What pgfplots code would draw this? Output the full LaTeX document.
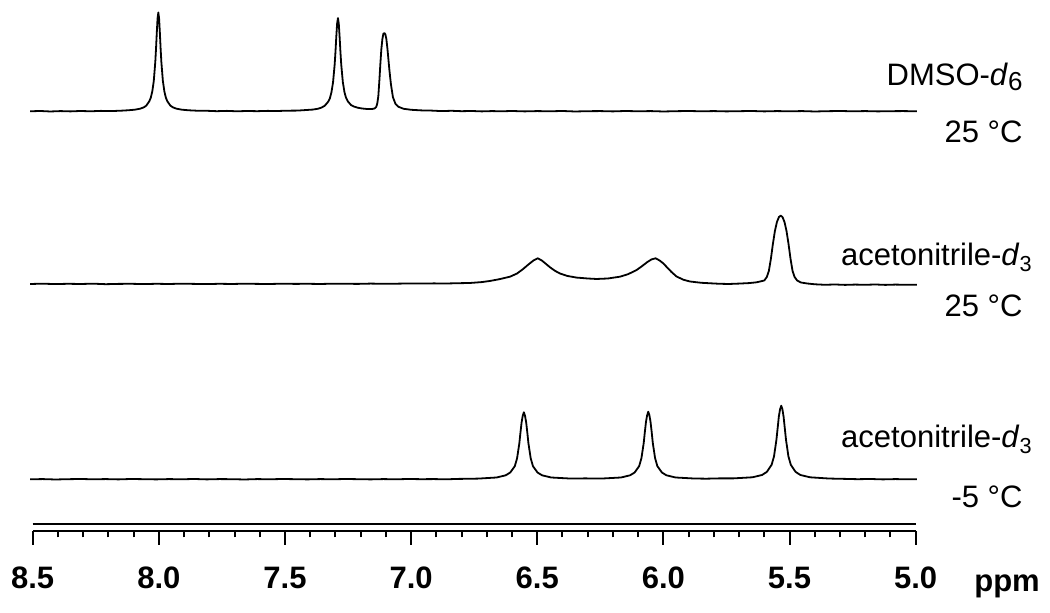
\documentclass[border=0pt]{standalone}
\usepackage{pgfplots}
\pgfplotsset{compat=1.18}
\usepackage{fontspec}
\setmainfont{Liberation Sans}
\newcommand{\lf}{\fontsize{15.5pt}{18pt}\selectfont}
\begin{document}
\begin{tikzpicture}
\path[use as bounding box] (0,0) rectangle (525pt,306.5pt);
\begin{axis}[
  at={(16.35pt,41.15pt)}, anchor=south west,
  scale only axis, width=441.5pt, height=265.35pt,
  x dir=reverse, xmin=5, xmax=8.5, ymin=82.3, ymax=613,
  enlargelimits=false, clip=false,
  axis x line=bottom, axis y line=none,
  x axis line style={-, line width=1pt},
  xtick={5,5.5,...,8.5}, minor x tick num=4,
  tick align=outside,
  major tick length=7pt, minor tick length=3.3pt,
  every tick/.style={black, line width=1pt},
  xticklabel style={font=\lf\bfseries, yshift=-7.5pt},
  /pgf/number format/.cd, fixed, fixed zerofill, precision=1, assume math mode=true,
]
\pgfplotsset{spec/.style={black, line width=0.9pt, line join=round}}
% DMSO-d6, 25 C
\addplot[spec] table[x=x, y expr=\thisrow{y}+501.7] {
x y
8.510 0.0
8.470 0.3
8.430 -0.2
8.390 0.2
8.350 -0.1
8.310 0.3
8.270 0.0
8.230 0.4
8.190 0.2
8.150 0.6
8.122 1.0
8.095 1.6
8.074 2.6
8.060 3.9
8.050 5.6
8.038 9.9
8.032 13.5
8.026 19.8
8.020 30.4
8.014 49.4
8.011 63.2
8.008 79.0
8.005 93.0
8.002 98.8
7.999 93.0
7.996 79.0
7.993 63.2
7.990 49.4
7.984 30.4
7.978 19.8
7.972 13.5
7.966 9.9
7.954 5.6
7.944 3.9
7.930 2.6
7.909 1.6
7.882 1.0
7.850 0.6
7.810 0.5
7.770 0.1
7.730 0.4
7.690 0.0
7.650 0.3
7.610 0.1
7.570 0.4
7.530 0.3
7.490 0.6
7.450 0.7
7.420 1.2
7.390 1.7
7.368 2.6
7.355 3.7
7.342 5.6
7.329 9.5
7.322 13.0
7.316 18.8
7.3095 28.8
7.303 46.8
7.29975 59.8
7.2965 74.8
7.29325 87.8
7.290 93.2
7.28675 87.8
7.2835 74.8
7.28025 59.8
7.277 46.8
7.2705 28.9
7.264 18.9
7.258 13.5
7.251 10.0
7.238 6.2
7.225 4.6
7.212 3.6
7.195 2.8
7.175 2.3
7.155 2.3
7.145 2.8
7.138 4.5
7.134 8
7.130 15
7.126 30
7.122 47
7.118 62
7.114 72
7.110 77.5
7.106 78.2
7.102 77
7.098 72
7.094 63
7.090 52
7.086 41
7.080 27
7.072 14
7.062 7.5
7.050 4.5
7.030 2.5
7.000 1.5
6.960 0.9
6.920 0.7
6.880 0.2
6.840 0.5
6.800 0.1
6.760 0.3
6.720 -0.1
6.680 0.2
6.640 0.0
6.600 0.3
6.550 -0.1
6.500 0.2
6.450 0.0
6.400 0.3
6.350 -0.2
6.300 0.1
6.250 0.2
6.200 -0.1
6.150 0.3
6.100 0.0
6.050 0.2
6.000 -0.2
5.950 0.1
5.900 0.3
5.850 0.0
5.800 0.2
5.750 -0.1
5.700 0.1
5.650 0.3
5.600 -0.1
5.550 0.2
5.500 0.0
5.450 0.2
5.400 -0.2
5.350 0.1
5.300 0.3
5.250 0.0
5.200 0.2
5.150 -0.1
5.100 0.1
5.050 0.2
4.995 0.0
};
% acetonitrile-d3, 25 C
\addplot[spec] table[x=x, y expr=\thisrow{y}+329] {
x y
8.510 0.0
8.460 0.3
8.410 -0.1
8.360 0.2
8.310 0.0
8.260 0.3
8.210 -0.2
8.160 0.1
8.110 0.2
8.060 -0.1
8.010 0.2
7.960 0.0
7.910 0.3
7.860 0.1
7.810 -0.1
7.760 0.2
7.710 0.0
7.660 0.3
7.610 0.1
7.560 0.0
7.510 0.3
7.460 0.1
7.410 0.2
7.360 0.0
7.310 0.3
7.260 0.2
7.210 0.1
7.160 0.4
7.110 0.2
7.060 0.3
7.010 0.5
6.960 0.4
6.910 0.6
6.860 0.5
6.810 0.8
6.767 1.0
6.720 1.9
6.688 3.0
6.650 4.8
6.608 7.3
6.580 10.5
6.556 15.0
6.535 19.5
6.515 23.5
6.498 25.7
6.482 23.5
6.465 20.0
6.450 16.8
6.430 13.2
6.410 10.5
6.380 8.0
6.344 6.4
6.300 5.5
6.265 5.0
6.220 5.5
6.172 7.3
6.140 9.8
6.106 14.0
6.085 17.8
6.066 21.5
6.048 24.5
6.031 25.7
6.015 23.5
6.000 20.5
5.987 17.0
5.968 12.0
5.948 7.5
5.920 4.2
5.895 2.5
5.850 1.2
5.800 0.5
5.776 0.2
5.740 0.0
5.700 0.4
5.660 0.9
5.630 1.7
5.600 3.5
5.590 7
5.582 13
5.574 25
5.566 40
5.558 53
5.550 62
5.542 67
5.535 68.3
5.528 67
5.520 62
5.512 53
5.504 40
5.496 25
5.488 13
5.480 7
5.470 3.5
5.455 1.5
5.430 0.5
5.400 -0.3
5.360 -0.8
5.320 -0.5
5.280 -0.9
5.240 -0.6
5.200 -0.8
5.160 -0.5
5.120 -0.9
5.080 -0.6
5.040 -0.8
4.995 -0.7
};
% acetonitrile-d3, -5 C
\addplot[spec] table[x=x, y expr=\thisrow{y}+133.7] {
x y
8.510 0.0
8.460 0.2
8.410 -0.2
8.360 0.1
8.310 0.3
8.260 0.0
8.210 0.2
8.160 -0.1
8.110 0.3
8.060 0.1
8.010 -0.1
7.960 0.2
7.910 0.0
7.860 0.3
7.810 -0.1
7.760 0.2
7.710 0.1
7.660 -0.2
7.610 0.2
7.560 0.0
7.510 0.3
7.460 0.1
7.410 -0.1
7.360 0.2
7.310 0.0
7.260 0.3
7.210 0.1
7.160 -0.1
7.110 0.2
7.060 0.0
7.010 0.3
6.960 0.1
6.910 0.2
6.860 0.0
6.810 0.4
6.770 0.5
6.733 0.7
6.661 1.8
6.625 4.0
6.607 6.8
6.589 13.1
6.580 21
6.571 36
6.5665 47
6.562 57
6.5575 63.5
6.553 67
6.5485 63.5
6.544 57
6.5395 47
6.535 36
6.526 21
6.517 13.1
6.499 6.8
6.481 4.0
6.445 1.8
6.373 0.8
6.310 0.9
6.240 0.8
6.168 1.8
6.132 4.0
6.114 6.8
6.096 13.2
6.087 21.2
6.078 36.3
6.0735 47.4
6.069 57.5
6.0645 64
6.060 67.6
6.0555 64
6.051 57.5
6.0465 47.4
6.042 36.3
6.033 21.2
6.024 13.2
6.006 6.8
5.988 4.0
5.952 1.8
5.880 0.8
5.830 0.6
5.780 0.9
5.723 0.9
5.647 2.0
5.609 4.3
5.590 7.4
5.571 14.5
5.5615 23
5.552 39.5
5.547 51.5
5.5425 62.5
5.5377 70
5.533 73.6
5.5283 70
5.5235 62.5
5.519 51.5
5.514 39.5
5.5045 23
5.495 14.5
5.476 7.4
5.457 4.3
5.419 2.0
5.343 0.75
5.280 0.4
5.230 0.1
5.180 0.3
5.130 -0.1
5.080 0.2
5.040 0.0
4.995 0.1
};
% upper line of the double scale line
\draw[line width=1pt] (axis cs:8.5,89) -- (axis cs:5.0,89);
% labels
\node[anchor=base east, font=\lf, inner sep=0pt] at (axis cs:4.575,527) {DMSO-\textit{d}{\fontsize{13pt}{13pt}\selectfont\raisebox{-2.5pt}{6}}};
\node[anchor=base east, font=\lf, inner sep=0pt] at (axis cs:4.575,470) {25 °C};
\node[anchor=base east, font=\lf, inner sep=0pt] at (axis cs:4.535,347) {acetonitrile-\textit{d}\textsubscript{3}};
\node[anchor=base east, font=\lf, inner sep=0pt] at (axis cs:4.575,296) {25 °C};
\node[anchor=base east, font=\lf, inner sep=0pt] at (axis cs:4.535,165) {acetonitrile-\textit{d}\textsubscript{3}};
\node[anchor=base east, font=\lf, inner sep=0pt] at (axis cs:4.575,105) {-5 °C};
\node[anchor=base west, font=\lf\bfseries, inner sep=0pt] at (axis cs:4.769,21) {ppm};
\end{axis}
\end{tikzpicture}
\end{document}
